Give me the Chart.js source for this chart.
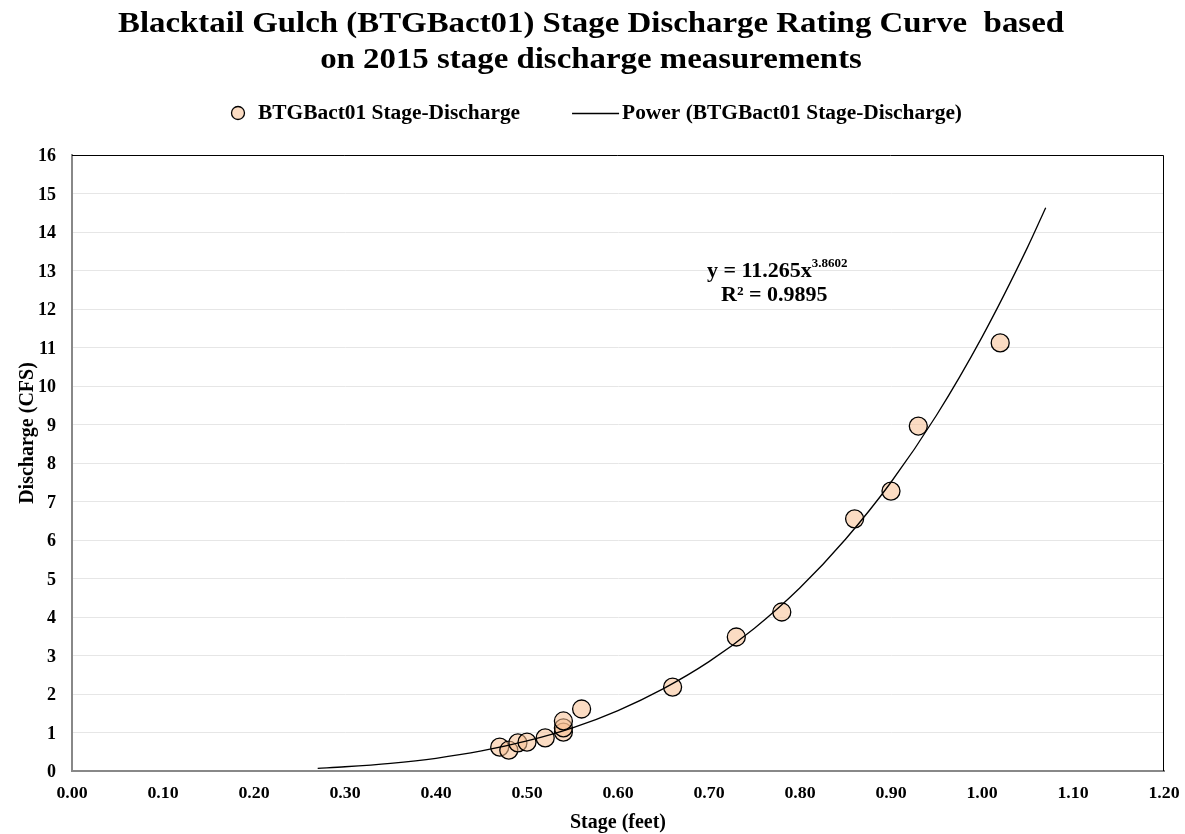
<!DOCTYPE html>
<html>
<head>
<meta charset="utf-8">
<script src="https://cdn.jsdelivr.net/npm/chart.js@4"></script>
<style>
  html, body { margin: 0; padding: 0; background: #fff; }
  #wrap { width: 1185px; height: 834px; position: relative; }
</style>
</head>
<body>
<div id="wrap"><canvas id="rating-curve"></canvas></div>
<script>
// measured stage (feet) and discharge (cfs)
var stage     = [0.47, 0.48, 0.49, 0.50, 0.52, 0.54, 0.54, 0.54, 0.56, 0.66, 0.73, 0.78, 0.86, 0.90, 0.93, 1.02];
var discharge = [0.62, 0.54, 0.73, 0.75, 0.86, 1.01, 1.12, 1.30, 1.61, 2.18, 3.48, 4.13, 6.55, 7.27, 8.96, 11.12];

// power trendline
var trendStage     = [0.27, 0.30, 0.35, 0.40, 0.45, 0.50, 0.55, 0.60, 0.65, 0.70, 0.75, 0.80, 0.85, 0.90, 0.95, 1.00, 1.05, 1.07];
var trendDischarge = [0.07, 0.11, 0.20, 0.33, 0.52, 0.78, 1.12, 1.57, 2.14, 2.84, 3.71, 4.76, 6.02, 7.50, 9.24, 11.27, 13.60, 14.63];

var yTicks = [0, 1, 2, 3, 4, 5, 6, 7, 8, 9, 10, 11, 12, 13, 14, 15, 16];
var xTicks = [0.00, 0.10, 0.20, 0.30, 0.40, 0.50, 0.60, 0.70, 0.80, 0.90, 1.00, 1.10, 1.20];

var titleLines = ['Blacktail Gulch (BTGBact01) Stage Discharge Rating Curve  based',
                  'on 2015 stage discharge measurements'];
var seriesNames = ['BTGBact01 Stage-Discharge', 'Power (BTGBact01 Stage-Discharge)'];

var serif = "'Liberation Serif', 'Times New Roman', serif";
var pointFill = 'rgba(247, 192, 145, 0.55)';

var points = stage.map(function(s, i) { return {x: s, y: discharge[i]}; });
var trend = trendStage.map(function(s, i) { return {x: s, y: trendDischarge[i]}; });

// draw text stretched horizontally by sx
function text(c, str, x, y, size, sx, align) {
    c.save();
    c.font = 'bold ' + size + 'px ' + serif;
    c.translate(x, y);
    c.scale(sx, 1);
    c.textAlign = align || 'left';
    c.fillText(str, 0, 0);
    c.restore();
}
function width(c, str, size) {
    c.save();
    c.font = 'bold ' + size + 'px ' + serif;
    var w = c.measureText(str).width;
    c.restore();
    return w;
}

var decor = {
    id: 'decor',
    afterDraw: function(chart) {
        var c = chart.ctx, a = chart.chartArea;
        var xs = chart.scales.x, ys = chart.scales.y;
        c.save();
        c.fillStyle = '#000';
        c.textBaseline = 'alphabetic';

        // frame on top / right
        c.strokeStyle = '#000';
        c.lineWidth = 1;
        c.beginPath();
        c.moveTo(a.left, a.top + 0.5);
        c.lineTo(a.right - 0.5, a.top + 0.5);
        c.lineTo(a.right - 0.5, a.bottom);
        c.stroke();

        // title
        var tsx = 946 / width(c, titleLines[0], 30);
        text(c, titleLines[0], 591, 32, 30, tsx, 'center');
        text(c, titleLines[1], 591, 68, 30, tsx, 'center');

        // legend
        c.beginPath();
        c.arc(238, 113, 6.5, 0, Math.PI * 2);
        c.fillStyle = pointFill;
        c.fill();
        c.lineWidth = 1.3;
        c.strokeStyle = '#000';
        c.stroke();
        c.fillStyle = '#000';
        text(c, seriesNames[0], 258, 119, 20, 1.07, 'left');
        var w2 = width(c, seriesNames[1], 20) * 1.07;
        var s2 = 962 - w2;
        c.beginPath();
        c.moveTo(s2 - 50, 113.5);
        c.lineTo(s2 - 3, 113.5);
        c.lineWidth = 1.3;
        c.stroke();
        text(c, seriesNames[1], s2, 119, 20, 1.07, 'left');

        // tick labels
        yTicks.forEach(function(v) {
            text(c, String(v), 56, ys.getPixelForValue(v) + 6, 18, 1, 'right');
        });
        xTicks.forEach(function(v) {
            text(c, v.toFixed(2), xs.getPixelForValue(v), 798, 17, 1.05, 'center');
        });

        // axis titles
        text(c, 'Stage (feet)', (a.left + a.right) / 2, 828, 20, 1, 'center');
        c.save();
        c.translate(33, 433);
        c.rotate(-Math.PI / 2);
        text(c, 'Discharge (CFS)', 0, 0, 20, 1, 'center');
        c.restore();

        // trendline equation
        var ex = xs.getPixelForValue(0.775);
        var main = 'y = 11.265x', sup = '3.8602';
        var mw = width(c, main, 22), sw = width(c, sup, 13);
        var sx0 = ex - (mw + sw) / 2;
        text(c, main, sx0, 277, 22, 1, 'left');
        text(c, sup, sx0 + mw, 267, 13, 1, 'left');
        text(c, 'R\u00B2 = 0.9895', ex - 3, 301, 22, 1, 'center');
        c.restore();
    }
};

var ctx = document.getElementById('rating-curve');
new Chart(ctx, {
    type: 'scatter',
    data: {
        datasets: [{
            label: seriesNames[0],
            data: points,
            backgroundColor: pointFill,
            borderColor: '#000',
            borderWidth: 1.3,
            pointRadius: 9,
            pointHoverRadius: 9,
            order: 1
        }, {
            type: 'line',
            label: seriesNames[1],
            data: trend,
            borderColor: '#000',
            borderWidth: 1.3,
            pointRadius: 0,
            fill: false,
            cubicInterpolationMode: 'monotone',
            order: 0
        }]
    },
    options: {
        responsive: true,
        maintainAspectRatio: false,
        animation: false,
        layout: { padding: { left: 72, right: 21, top: 155, bottom: 63 } },
        scales: {
            x: {
                type: 'linear',
                min: 0, max: 1.2,
                ticks: { display: false },
                grid: { display: false, drawTicks: false },
                border: { color: '#888', width: 2 }
            },
            y: {
                min: 0, max: 16,
                afterBuildTicks: function(axis) {
                    axis.ticks = yTicks.map(function(v) { return {value: v}; });
                },
                ticks: { display: false },
                grid: { color: '#e6e6e6', drawTicks: false },
                border: { color: '#888', width: 2 }
            }
        },
        plugins: {
            title: { display: false },
            legend: { display: false },
            tooltip: { enabled: false }
        }
    },
    plugins: [decor]
});
</script>
</body>
</html>
